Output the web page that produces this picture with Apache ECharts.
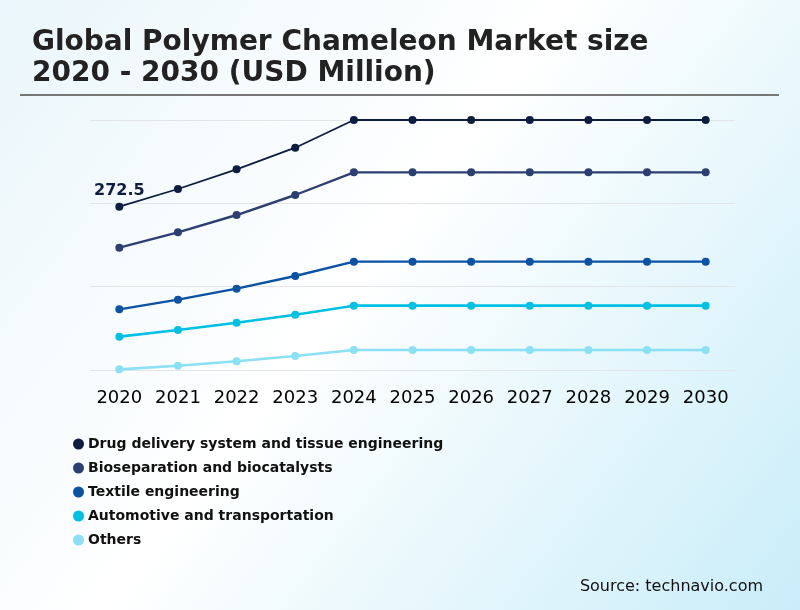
<!DOCTYPE html>
<html>
<head>
<meta charset="utf-8">
<script src="https://cdn.jsdelivr.net/npm/echarts@6/dist/echarts.min.js"></script>
<style>
html,body{margin:0;padding:0;width:800px;height:610px;overflow:hidden;}
#main{width:800px;height:610px;}
</style>
</head>
<body>
<div id="main"></div>
<script>
var years = ['2020','2021','2022','2023','2024','2025','2026','2027','2028','2029','2030'];
var seriesNames = ['Drug delivery system and tissue engineering','Bioseparation and biocatalysts','Textile engineering','Automotive and transportation','Others'];
var drugDelivery = [272.5, 301.9, 334.8, 370.8, 417, 417, 417, 417, 417, 417, 417];
var bioseparation = [204.0, 229.6, 258.5, 291.9, 329.7, 329.7, 329.7, 329.7, 329.7, 329.7, 329.7];
var textile = [101.2, 117.3, 135.7, 156.8, 180.7, 180.7, 180.7, 180.7, 180.7, 180.7, 180.7];
var automotive = [55.6, 66.7, 78.9, 92.3, 107.3, 107.3, 107.3, 107.3, 107.3, 107.3, 107.3];
var others = [1.1, 7.2, 14.5, 23.4, 33.4, 33.4, 33.4, 33.4, 33.4, 33.4, 33.4];
var colors = ['#0d1d40', '#2b3f73', '#0a52a3', '#00c0e4', '#8ae0f4'];
var allData = [drugDelivery, bioseparation, textile, automotive, others];
var lineWidths = [1.8, 2.4, 2.4, 2.6, 2.6];

var chart = echarts.init(document.getElementById('main'));
var series = allData.map(function (d, i) {
  return {
    name: seriesNames[i],
    type: 'line',
    data: d,
    symbol: 'circle',
    symbolSize: 8,
    lineStyle: { width: lineWidths[i], color: colors[i] },
    itemStyle: { color: colors[i] },
    emphasis: { disabled: true },
    label: i === 0 ? {
      show: true,
      position: 'top',
      distance: 4,
      fontFamily: 'DejaVu Sans',
      fontWeight: 'bold',
      fontSize: 16,
      color: '#0d1d40',
      formatter: function (p) { return p.dataIndex === 0 ? '272.5' : ''; }
    } : { show: false }
  };
});

chart.setOption({
  animation: false,
  backgroundColor: {
    type: 'linear', x: 0, y: 0, x2: 1, y2: 1,
    colorStops: [
      { offset: 0, color: '#eaf6fb' },
      { offset: 0.45, color: '#ffffff' },
      { offset: 1, color: '#c9edf9' }
    ]
  },
  color: colors,
  title: {
    text: 'Global Polymer Chameleon Market size\n2020 - 2030 (USD Million)',
    left: 27,
    top: 22,
    textStyle: {
      fontFamily: 'DejaVu Sans',
      fontWeight: 'bold',
      fontSize: 28,
      lineHeight: 31,
      color: '#222222'
    }
  },
  graphic: [
    { type: 'line', shape: { x1: 20, y1: 95, x2: 779, y2: 95 }, style: { stroke: '#777777', lineWidth: 2 } },
    { type: 'text', right: 37, top: 579, style: { text: 'Source: technavio.com', fontFamily: 'DejaVu Sans', fontSize: 16, fill: '#111111' } }
  ],
  legend: {
    orient: 'vertical',
    left: 68,
    top: 432,
    itemGap: 10,
    itemWidth: 11,
    itemHeight: 11,
    icon: 'circle',
    data: seriesNames,
    textStyle: { fontFamily: 'DejaVu Sans', fontWeight: 'bold', fontSize: 14, color: '#111111', padding: [0, 0, 0, -1] }
  },
  grid: { left: 90, right: 65, top: 120, bottom: 240, containLabel: false },
  xAxis: {
    type: 'category',
    data: years,
    boundaryGap: true,
    axisLine: { show: false },
    axisTick: { show: false },
    axisLabel: { interval: 0, fontFamily: 'DejaVu Sans', fontSize: 18, color: '#000000', margin: 19 }
  },
  yAxis: {
    type: 'value',
    min: 0,
    max: 417,
    interval: 139,
    axisLabel: { show: false },
    axisLine: { show: false },
    axisTick: { show: false },
    splitLine: { lineStyle: { color: '#e2e4e8', width: 1 } }
  },
  series: series
});
</script>
</body>
</html>
